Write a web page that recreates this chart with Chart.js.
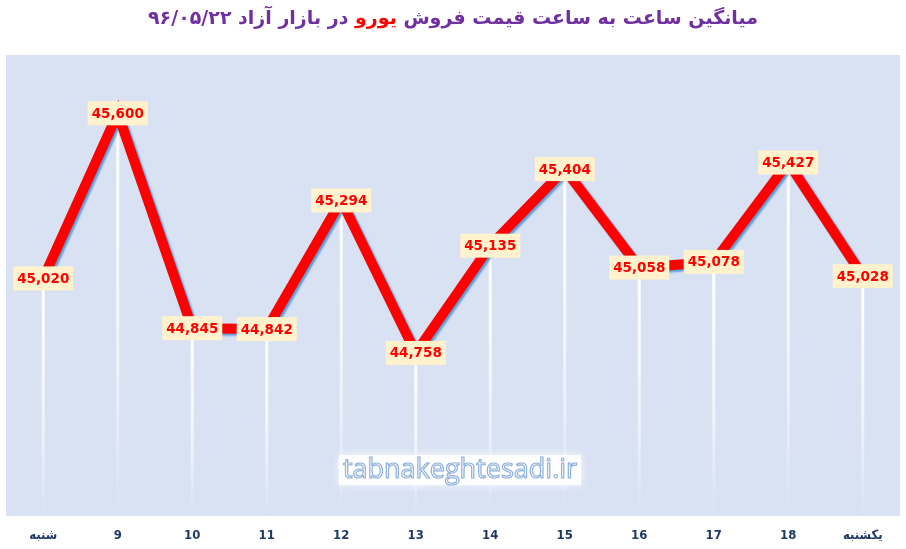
<!DOCTYPE html>
<html>
<head>
<meta charset="utf-8">
<script src="https://cdn.jsdelivr.net/npm/chart.js@4"></script>
<style>
  html, body { margin: 0; padding: 0; background: #fff; }
  #wrap { position: relative; width: 906px; height: 549px; }
</style>
</head>
<body>
<div id="wrap"><canvas id="euroChart"></canvas></div>
<script>
// داده‌ها
const hours = ['شنبه', '9', '10', '11', '12', '13', '14', '15', '16', '17', '18', 'یکشنبه'];
const prices = [45020, 45600, 44845, 44842, 45294, 44758, 45135, 45404, 45058, 45078, 45427, 45028];
const yMin = 44185;
const yMax = 45805;
const titleParts = ['میانگین ساعت به ساعت قیمت فروش ', 'یورو', ' در بازار آزاد ۹۶/۰۵/۲۲'];
const titleColors = ['#7030A0', '#FF0000', '#7030A0'];
const watermark = 'tabnakeghtesadi.ir';

// پس‌زمینه ناحیه نمودار + خطوط عمودی سفید
const backdrop = {
    id: 'backdrop',
    beforeDatasetsDraw(chart) {
        const { ctx, chartArea: a } = chart;
        ctx.save();
        ctx.fillStyle = '#D9E2F3';
        ctx.fillRect(a.left, a.top, a.right - a.left, a.bottom - a.top);
        const meta = chart.getDatasetMeta(0);
        meta.data.forEach(pt => {
            const g = ctx.createLinearGradient(0, pt.y, 0, a.bottom);
            g.addColorStop(0, 'rgba(255,255,255,1)');
            g.addColorStop(0.6, 'rgba(255,255,255,0.6)');
            g.addColorStop(1, 'rgba(255,255,255,0)');
            ctx.strokeStyle = g;
            ctx.lineWidth = 3;
            ctx.beginPath();
            ctx.moveTo(pt.x, pt.y);
            ctx.lineTo(pt.x, a.bottom);
            ctx.stroke();
        });
        // واترمارک
        ctx.font = '27px "Open Sans", sans-serif';
        const w = ctx.measureText(watermark).width;
        const cx = 460, cy = 470;
        ctx.shadowColor = 'rgba(255,255,255,1)';
        ctx.shadowBlur = 8;
        ctx.fillStyle = 'rgba(255,255,255,0.9)';
        ctx.fillRect(cx - w / 2 - 4, cy - 15, w + 8, 30);
        ctx.shadowBlur = 0;
        ctx.textAlign = 'center';
        ctx.textBaseline = 'middle';
        ctx.lineWidth = 1.2;
        ctx.strokeStyle = '#8DB0DC';
        ctx.fillStyle = '#FFFFFF';
        ctx.fillText(watermark, cx, cy);
        ctx.strokeText(watermark, cx, cy);
        ctx.restore();
    }
};

// سایه آبی زیر خط
const lineShadow = {
    id: 'lineShadow',
    beforeDatasetDraw(chart) {
        const ctx = chart.ctx;
        ctx.save();
        ctx.shadowColor = '#5B9BD5';
        ctx.shadowOffsetX = 2;
        ctx.shadowOffsetY = 2;
        ctx.shadowBlur = 2;
    },
    afterDatasetDraw(chart) {
        chart.ctx.restore();
    }
};

// برچسب مقادیر
const valueLabels = {
    id: 'valueLabels',
    afterDatasetsDraw(chart) {
        const ctx = chart.ctx;
        const meta = chart.getDatasetMeta(0);
        ctx.save();
        ctx.font = 'bold 13.5px "DejaVu Sans", sans-serif';
        ctx.textAlign = 'center';
        ctx.textBaseline = 'middle';
        meta.data.forEach((pt, i) => {
            const txt = prices[i].toLocaleString('en-US');
            const w = ctx.measureText(txt).width + 8;
            ctx.fillStyle = '#FFF2CC';
            ctx.fillRect(pt.x - w / 2, pt.y - 12, w, 24);
            ctx.fillStyle = '#FF0000';
            ctx.fillText(txt, pt.x, pt.y + 1);
        });
        ctx.restore();
    }
};

// عنوان دو رنگ
const rtlTitle = {
    id: 'rtlTitle',
    afterDraw(chart) {
        const ctx = chart.ctx;
        ctx.save();
        ctx.font = 'bold 19px "DejaVu Sans", sans-serif';
        ctx.direction = 'rtl';
        ctx.textAlign = 'right';
        ctx.textBaseline = 'middle';
        const widths = titleParts.map(t => ctx.measureText(t).width);
        const total = widths.reduce((s, v) => s + v, 0);
        let x = 453 + total / 2;
        titleParts.forEach((t, i) => {
            ctx.fillStyle = titleColors[i];
            ctx.fillText(t, x, 19);
            x -= widths[i];
        });
        ctx.restore();
    }
};

new Chart(document.getElementById('euroChart'), {
    type: 'line',
    data: {
        labels: hours,
        datasets: [{
            data: prices,
            borderColor: '#FF0000',
            borderWidth: 10,
            borderJoinStyle: 'miter',
            pointRadius: 0,
            tension: 0,
            fill: false
        }]
    },
    options: {
        responsive: true,
        maintainAspectRatio: false,
        animation: false,
        layout: { padding: { left: 6, right: 6, top: 55, bottom: 0 } },
        scales: {
            x: {
                offset: true,
                grid: { display: false, drawTicks: false },
                border: { display: false },
                ticks: {
                    color: '#1F3864',
                    padding: 12,
                    maxRotation: 0,
                    autoSkip: false,
                    font: { family: '"Liberation Sans Narrow", "DejaVu Sans Condensed", sans-serif', size: 13, weight: 'bold' }
                },
                afterFit(scale) { scale.height = 33; }
            },
            y: {
                display: false,
                min: yMin,
                max: yMax
            }
        },
        plugins: {
            legend: { display: false },
            tooltip: { enabled: false }
        }
    },
    plugins: [backdrop, lineShadow, valueLabels, rtlTitle]
});
</script>
</body>
</html>
